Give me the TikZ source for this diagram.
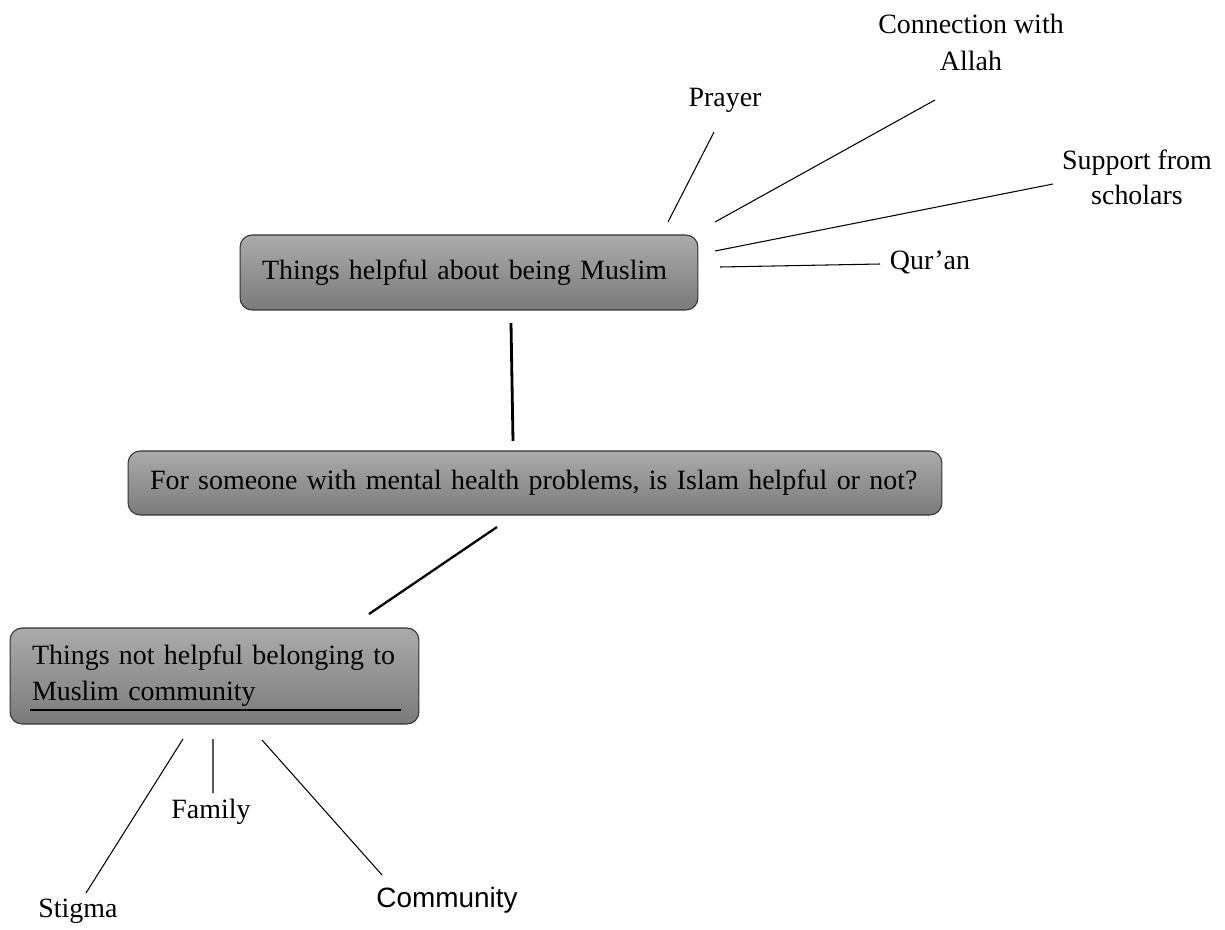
\documentclass[tikz,border=0pt]{standalone}
\usepackage{fontspec}
\setmainfont{Liberation Serif}
\newfontfamily\arialfont{Liberation Sans}
\usetikzlibrary{positioning}

\begin{document}
\begin{tikzpicture}[x=0.02cm, y=-0.02cm,
  box/.style={draw=black!80, line width=0.6pt, rounded corners=0.24cm,
    top color=black!33, bottom color=black!52, inner xsep=0.44cm,
    align=left, font=\fontsize{15.9}{20.5}\selectfont},
  leaf/.style={inner sep=0pt, align=center, font=\fontsize{15.9}{21}\selectfont},
  spoke/.style={line width=0.6pt},
  trunk/.style={line width=1.6pt}]
  \useasboundingbox (0,0) rectangle (1225,930);

  % the three boxes
  \node[box, minimum width=9.16cm, minimum height=1.5cm, text width=8.28cm]
    (helpful) at (469,272.5) {\mbox{Things helpful about being Muslim}};
  \node[box, minimum width=16.28cm, minimum height=1.28cm, text width=15.4cm]
    (question) at (535,483) {\mbox{For someone with mental health problems, is Islam helpful or not?}};
  \node[box, minimum width=8.18cm, minimum height=1.92cm, text width=7.3cm]
    (nothelpful) at (214.5,676) {\mbox{Things not helpful belonging to}\\Muslim community};
  \draw[spoke] (30,710) -- (401,710);

  % labels
  \node[leaf] (prayer) at (725,100) {Prayer};
  \node[leaf] (allah) at (971,42) {Connection with\\Allah};
  \node[leaf, font=\fontsize{15.9}{20}\selectfont] (scholars) at (1137,177) {Support from\\scholars};
  \node[leaf] (quran) at (930,262) {Qur’an};
  \node[leaf] (family) at (211,812) {Family};
  \node[leaf] (stigma) at (78,911) {Stigma};
  \node[leaf, font=\arialfont\fontsize{15.9}{20}\selectfont] (community) at (447,900) {Community};

  % line ends
  \coordinate (prayerA) at (714,132);    \coordinate (prayerB) at (668,222);
  \coordinate (allahA) at (935,100);     \coordinate (allahB) at (715,222);
  \coordinate (scholarsA) at (1053,184); \coordinate (scholarsB) at (715,251);
  \coordinate (quranA) at (880,264);     \coordinate (quranB) at (720,267);
  \coordinate (familyA) at (213,793);    \coordinate (familyB) at (213,739);
  \coordinate (stigmaA) at (86,893);     \coordinate (stigmaB) at (183,739);
  \coordinate (communityA) at (382,875); \coordinate (communityB) at (262,740);
  \coordinate (upA) at (511,323);        \coordinate (upB) at (513,441);
  \coordinate (downA) at (497,527);      \coordinate (downB) at (369,614);

  \draw[trunk] (upA) -- (upB);
  \draw[trunk, line width=1.3pt] (downA) -- (downB);
  \draw[spoke]
    (prayerA) -- (prayerB)
    (allahA) -- (allahB)
    (scholarsA) -- (scholarsB)
    (quranA) -- (quranB)
    (familyA) -- (familyB)
    (stigmaA) -- (stigmaB)
    (communityA) -- (communityB);
\end{tikzpicture}
\end{document}
